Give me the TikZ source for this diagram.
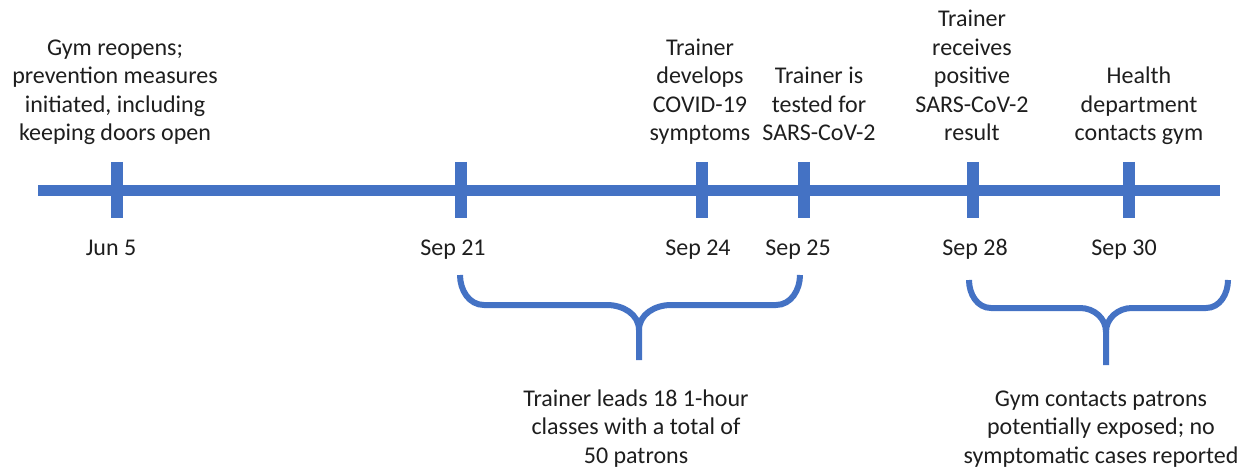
\documentclass[tikz,border=0pt]{standalone}
\usepackage{fontspec}
\setmainfont{Carlito}
\definecolor{tlblue}{HTML}{4472C4}
\definecolor{txtcol}{HTML}{1E1E1E}
\begin{document}
\begin{tikzpicture}[x=1pt,y=-1pt,
  lbl/.style={font=\fontsize{24}{28.5}\selectfont, text=txtcol, align=center, inner sep=0pt, anchor=base},
  axisline/.style={draw=tlblue, line width=11pt},
  tickmark/.style={draw=tlblue, line width=12pt},
  bracepath/.style={draw=tlblue, line width=6pt}]
\useasboundingbox (0,0) rectangle (1254,476);
% timeline
\coordinate (L) at (38,191);
\coordinate (R) at (1220,191);
\draw[axisline] (L) -- (R);
% ticks
\foreach \n/\x in {jun5/117, sep21/461, sep24/702, sep25/804, sep28/973, sep30/1129}{
  \coordinate (\n-top) at (\x,162);
  \coordinate (\n-bot) at (\x,218);
  \draw[tickmark] (\n-top) -- (\n-bot);
}
% date labels
\node[lbl] (d-jun5)  at (111,255) {Jun 5};
\node[lbl] (d-sep21) at (453,255) {Sep 21};
\node[lbl] (d-sep24) at (698,255) {Sep 24};
\node[lbl] (d-sep25) at (798,255) {Sep 25};
\node[lbl] (d-sep28) at (975,255) {Sep 28};
\node[lbl] (d-sep30) at (1124,255) {Sep 30};
% event labels
\node[lbl] (e-gym)   at (115,141) {Gym reopens;\\prevention measures\\initiated, including\\keeping doors open};
\node[lbl] (e-symp)  at (700,141) {Trainer\\develops\\COVID-19\\symptoms};
\node[lbl] (e-test)  at (819,141) {Trainer is\\tested for\\SARS-CoV-2};
\node[lbl] (e-pos)   at (972,141) {Trainer\\receives\\positive\\SARS-CoV-2\\result};
\node[lbl] (e-health) at (1139,141) {Health\\department\\contacts gym};
% braces
\draw[bracepath] (460,275) to[out=-90,in=180] (484,305) -- (607,305) to[out=0,in=90] (639,330) -- (639,360);
\draw[bracepath] (800,275) to[out=-90,in=0] (776,305) -- (671,305) to[out=180,in=90] (639,330);
\draw[bracepath] (969,280) to[out=-90,in=180] (991,308) -- (1080,308) to[out=0,in=90] (1106,332) -- (1106,365);
\draw[bracepath] (1228,280) to[out=-90,in=0] (1206,308) -- (1132,308) to[out=180,in=90] (1106,332);
% bottom labels
\node[lbl] (b-classes)  at (636,463) {Trainer leads 18 1-hour\\classes with a total of\\50 patrons};
\node[lbl] (b-contacts) at (1101,463) {Gym contacts patrons\\potentially exposed; no\\symptomatic cases reported};
\end{tikzpicture}
\end{document}
